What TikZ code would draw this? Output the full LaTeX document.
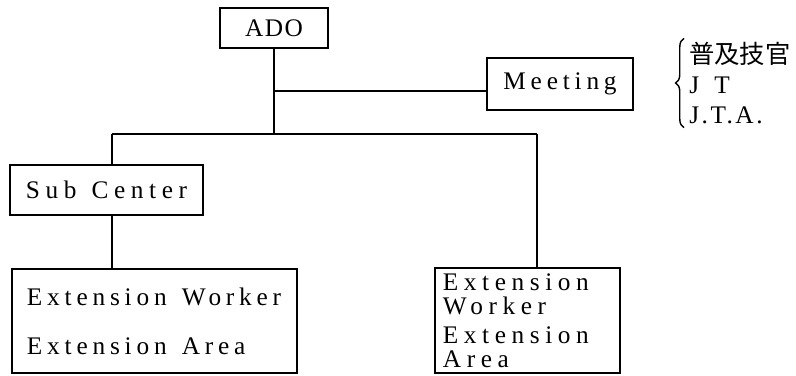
\documentclass[tikz,border=0pt]{standalone}
\usepackage{fontspec}
\usepackage{tikz}
\usetikzlibrary{positioning, calc, decorations.pathreplacing}
\setmainfont{Liberation Serif}[LetterSpace=10]
\newfontfamily\jpfont{Noto Sans CJK JP}
\definecolor{orgline}{RGB}{0, 0, 0}
\newcommand{\wgap}{\hspace{0.6em}}

\begin{document}
\begin{tikzpicture}[x=0.025cm, y=-0.025cm,
    box/.style={draw=orgline, line width=1.2pt, inner sep=0pt, font=\fontsize{18pt}{21pt}\selectfont},
    link/.style={draw=orgline, line width=1.1pt}]
            \useasboundingbox (0,0) rectangle (796,375);

            % Livello superiore
            \node[box, minimum width=2.7cm, minimum height=1cm] (ado) at (274,28)
                {\addfontfeature{LetterSpace=6}ADO};
            \node[box, minimum width=3.65cm, minimum height=1.3cm] (meeting) at (560,84)
                {\addfontfeature{LetterSpace=19}Meeting};
            \node[box, minimum width=4.825cm, minimum height=1.25cm] (subcenter) at (106.5,190)
                {\addfontfeature{LetterSpace=22}Sub\wgap Center};

            % Box inferiori
            \node[box, minimum height=2.6cm, inner xsep=0.375cm, text width=6.375cm, align=left] (ewleft) at (154.5,321)
                {\addfontfeature{LetterSpace=19}Extension\wgap Worker\\[13.7pt]Extension\wgap Area};
            \node[box, minimum height=2.625cm, inner xsep=0.2cm, text width=4.225cm, align=left,
                  font=\fontsize{18pt}{17pt}\selectfont] (ewright) at (527.5,320.5)
                {\addfontfeature{LetterSpace=22}Extension\\Worker\\[3.5pt]Extension\\Area};

            % Nota a destra
            \node[anchor=west, align=left, inner sep=0pt, font=\fontsize{18pt}{21pt}\selectfont] (note) at (689,83)
                {{\jpfont\fontsize{18pt}{21pt}\selectfont 普及技官}\\J\wgap T\\J.T.A.};
            \draw[line width=1pt, decorate, decoration={brace, amplitude=6pt}]
                ($(note.south west)+(-5,4)$) -- ($(note.north west)+(-5,-4)$);

            % Collegamenti
            \coordinate (meetj) at (274,91);
            \coordinate (split) at (274,134);
            \coordinate (leftj) at (112,134);
            \coordinate (rightj) at (537,134);
            \draw[link] (ado.south) -- (split);
            \draw[link] (meetj) -- (meetj -| meeting.west);
            \draw[link] (leftj) -- (rightj);
            \draw[link] (leftj) -- (leftj |- subcenter.north);
            \draw[link] (leftj |- subcenter.south) -- (leftj |- ewleft.north);
            \draw[link] (rightj) -- (rightj |- ewright.north);
\end{tikzpicture}
\end{document}
